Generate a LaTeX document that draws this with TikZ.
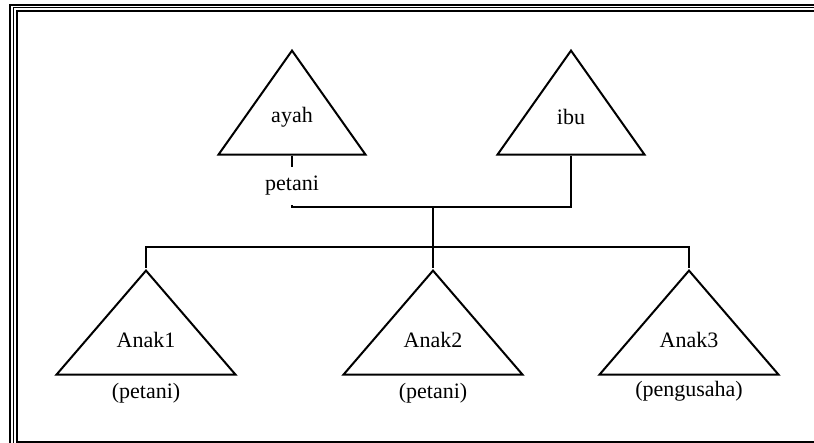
\documentclass[tikz,border=0pt]{standalone}
\usepackage{fontspec}
\setmainfont{Liberation Serif}
\usetikzlibrary{shapes.geometric, positioning, calc}
\tikzstyle{line} = [line width=1pt]

\begin{document}
\begin{tikzpicture}[x=0.5pt, y=-0.5pt, font=\fontsize{11}{13}\selectfont]
\tikzstyle{parent} = [isosceles triangle, isosceles triangle stretches, shape border rotate=90, draw=black, line width=1pt, minimum width=73.5pt, minimum height=52pt, inner sep=0pt, anchor=apex]
\tikzstyle{child} = [isosceles triangle, isosceles triangle stretches, shape border rotate=90, draw=black, line width=1pt, minimum width=89.5pt, minimum height=52pt, inner sep=0pt, anchor=apex]
\tikzstyle{label} = [inner sep=0pt]

\useasboundingbox (0,0) rectangle (814,443);

% frame
\draw [line width=1pt] (10,5) rectangle (830,452);
\draw [line width=0.5pt] (13.5,8) rectangle (826.5,448.5);
\draw [line width=1pt] (17,11.5) rectangle (823,441.5);

% parents
\node (ayah) [parent] at (292,48) {};
\node (ibu) [parent] at (571,48) {};
\node (ayahtext) [label] at (292,117) {ayah};
\node (ibutext) [label] at (571,117) {ibu};
\node (ayahjob) [label, minimum height=19pt] at (292,186) {petani};

% children
\node (anak1) [child] at (146,268) {};
\node (anak2) [child] at (433,268) {};
\node (anak3) [child] at (689,268) {};
\node (anak1text) [label] at (146,340) {Anak1};
\node (anak2text) [label] at (433,340) {Anak2};
\node (anak3text) [label] at (689,340) {Anak3};
\node (anak1job) [label] at (146,393) {(petani)};
\node (anak2job) [label] at (433,393) {(petani)};
\node (anak3job) [label] at (689,391) {(pengusaha)};

\coordinate (pj) at (433,207);
\coordinate (cj) at (433,247);

\draw [line] (ayah.lower side) -- (ayahjob.north);
\draw [line] (ayahjob.south) |- (pj) -| (ibu.lower side);
\draw [line] (pj) -- (anak2.apex);
\draw [line] (anak1.apex) |- (cj) -| (anak3.apex);

\end{tikzpicture}
\end{document}
